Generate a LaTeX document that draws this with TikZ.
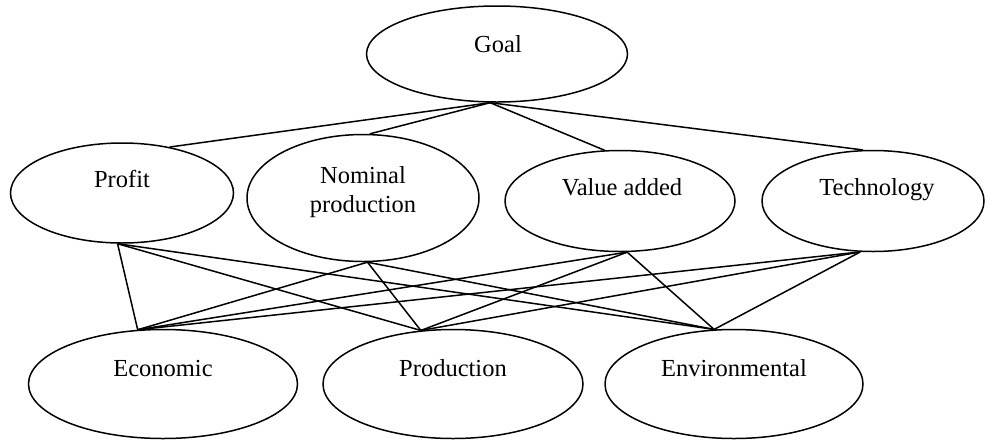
\documentclass[tikz,border=0pt]{standalone}
\usepackage{fontspec}
\setmainfont{Liberation Serif}
\usetikzlibrary{shapes.geometric}
\begin{document}
\begin{tikzpicture}[x=1pt,y=-1pt,
  ell/.style={ellipse,draw,line width=1.5pt,inner sep=0pt},
  txt/.style={anchor=base,inner sep=0pt,font=\fontsize{24.5}{29}\selectfont,align=center},
  link/.style={line width=1.5pt}]
\useasboundingbox (0,0) rectangle (988,440);
% ellipses
\node[ell,minimum width=261pt,minimum height=96pt] (goal) at (497,54) {};
\node[ell,minimum width=223pt,minimum height=100pt] (profit) at (122,193) {};
\node[ell,minimum width=232pt,minimum height=127pt] (nominal) at (363,198) {};
\node[ell,minimum width=230pt,minimum height=101pt] (value) at (620,201) {};
\node[ell,minimum width=222pt,minimum height=101pt] (tech) at (873,201) {};
\node[ell,minimum width=269pt,minimum height=109pt] (eco) at (163,384) {};
\node[ell,minimum width=260pt,minimum height=109pt] (prod) at (453,384) {};
\node[ell,minimum width=258pt,minimum height=109pt] (env) at (734,384) {};
% texts
\node[txt] (goal-t) at (498,52) {Goal};
\node[txt] (profit-t) at (122,187) {Profit};
\node[txt] (nominal-t) at (363,212) {Nominal\\production};
\node[txt] (value-t) at (622,195) {Value added};
\node[txt] (tech-t) at (877,195) {Technology};
\node[txt] (eco-t) at (163,376) {Economic};
\node[txt] (prod-t) at (453,376) {Production};
\node[txt] (env-t) at (734,376) {Environmental};
% top-level links
\draw[link] (goal.262) -- (profit.44);
\draw[link] (goal.262) -- (nominal.84);
\draw[link] (goal.262) -- (value.107);
\draw[link] (goal.262) -- (tech.101);
% criteria to bottom
\foreach \s/\a in {profit/265, nominal/274, value/278, tech/256}{
  \draw[link] (\s.\a) -- (eco.115);
  \draw[link] (\s.\a) -- (prod.121);
  \draw[link] (\s.\a) -- (env.110);
}
\end{tikzpicture}
\end{document}
